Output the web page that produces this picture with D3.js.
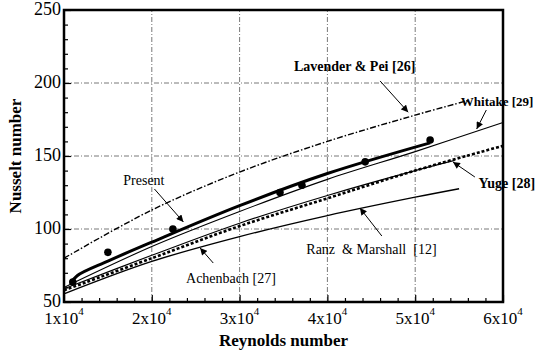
<!DOCTYPE html>
<html>
<head>
<meta charset="utf-8">
<script src="https://cdn.jsdelivr.net/npm/d3@7"></script>
<style>
  body { margin: 0; background: #fff; font-family: "Liberation Serif", "Times New Roman", serif; }
  svg { display: block; }
  svg text { font-family: "Liberation Serif", "Times New Roman", serif; }
</style>
</head>
<body>
<main></main>
<script>
// Reynolds number / Nusselt number curves
const lavenderRe = [10000, 20000, 30000, 40000, 50000, 56000];
const lavenderNu = [80, 113, 139, 160, 178, 188];

const whitakerRe = [10000, 20000, 30000, 40000, 50000, 60000];
const whitakerNu = [60, 88, 112, 134, 153, 173];

const presentRe = [10800, 11500, 15000, 20000, 30000, 40000, 51700];
const presentNu = [63, 68, 78, 91, 116, 138, 159];

const yugeRe = [10000, 20000, 30000, 40000, 50000, 60000];
const yugeNu = [58, 80, 102, 121, 140, 157];

const achenbachRe = [10000, 20000, 30000, 40000, 50000, 54500];
const achenbachNu = [59, 82, 104, 123, 140, 147];

const ranzRe = [10000, 20000, 30000, 40000, 50000, 55000];
const ranzNu = [55.6, 77.8, 94.8, 109.2, 121.8, 127.6];

// experimental points (Present)
const pointRe = [11000, 15000, 22400, 34600, 37100, 44300, 51700];
const pointNu = [63.7, 84, 100, 125, 130, 146, 161];

const xTicks = [10000, 20000, 30000, 40000, 50000, 60000];
const xTickLabels = ['1x10', '2x10', '3x10', '4x10', '5x10', '6x10'];
const yTicks = [50, 100, 150, 200, 250];

// annotation labels: text position and arrow (from -> tip), all in data units
const labels = [
  { text: 'Lavender & Pei [26]', re: 43100, nu: 211.7, anchor: 'middle', weight: 700, size: 14, from: [46000, 201.4], tip: [49200, 180] },
  { text: 'Whitake [29]', re: 55200, nu: 187.7, anchor: 'start', weight: 700, size: 13, from: [58100, 181.5], tip: [57000, 168.5] },
  { text: 'Yuge [28]', re: 57200, nu: 131.5, anchor: 'start', weight: 700, size: 14, from: [56800, 135.6], tip: [54300, 145.9] },
  { text: 'Ranz\u00a0 & Marshall\u00a0 [12]', re: 37600, nu: 86.3, anchor: 'start', weight: 400, size: 14, from: [46200, 95.2], tip: [43700, 114.4] },
  { text: 'Achenbach [27]', re: 23900, nu: 66.4, anchor: 'start', weight: 400, size: 14, from: [27000, 76.7], tip: [25500, 87] },
  { text: 'Present', re: 19100, nu: 133.6, anchor: 'middle', weight: 400, size: 14, from: [20300, 127.4], tip: [23600, 104.8] }
];

const width = 536;
const height = 351;
const margin = { top: 10, right: 33, bottom: 49, left: 64 };

const svg = d3.select('main')
  .append('svg')
  .attr('width', width)
  .attr('height', height)
  .attr('font-family', 'Liberation Serif, Times New Roman, serif');

const x = d3.scaleLinear()
  .domain([10000, 60000])
  .range([margin.left, width - margin.right]);

const y = d3.scaleLinear()
  .domain([50, 250])
  .range([height - margin.bottom, margin.top]);

// arrow head
svg.append('defs')
  .append('marker')
  .attr('id', 'head')
  .attr('viewBox', '0 0 10 10')
  .attr('refX', 10)
  .attr('refY', 5)
  .attr('markerWidth', 8)
  .attr('markerHeight', 7)
  .attr('markerUnits', 'userSpaceOnUse')
  .attr('orient', 'auto')
  .append('path')
  .attr('d', 'M0,0 L10,5 L0,10 z')
  .attr('fill', '#000');

// Grid
const grid = svg.append('g')
  .attr('stroke', '#555')
  .attr('stroke-width', 0.8)
  .attr('stroke-dasharray', '5,2,1,2');

grid.selectAll('line.gx')
  .data(xTicks.slice(1, -1))
  .enter()
  .append('line')
  .attr('x1', d => x(d))
  .attr('x2', d => x(d))
  .attr('y1', y(50))
  .attr('y2', y(250));

grid.selectAll('line.gy')
  .data(yTicks.slice(1, -1))
  .enter()
  .append('line')
  .attr('x1', x(10000))
  .attr('x2', x(60000))
  .attr('y1', d => y(d))
  .attr('y2', d => y(d));

// Axes with inward ticks
const xMinor = d3.range(10000, 60001, 2000).filter(d => d % 10000 !== 0);
const yMinor = d3.range(50, 251, 10).filter(d => d % 50 !== 0);

const tickAxis = (axis, t) => svg.append('g')
  .attr('transform', t)
  .call(axis.tickFormat(''))
  .call(g => g.select('.domain').remove())
  .call(g => g.selectAll('line').attr('stroke-width', 1.2));

tickAxis(d3.axisBottom(x).tickValues(xMinor).tickSize(-4), `translate(0, ${y(50)})`);
tickAxis(d3.axisBottom(x).tickValues(xTicks).tickSize(-7), `translate(0, ${y(50)})`);
tickAxis(d3.axisLeft(y).tickValues(yMinor).tickSize(-4), `translate(${x(10000)}, 0)`);
tickAxis(d3.axisLeft(y).tickValues(yTicks).tickSize(-7), `translate(${x(10000)}, 0)`);

// Frame
svg.append('rect')
  .attr('x', x(10000))
  .attr('y', y(250))
  .attr('width', x(60000) - x(10000))
  .attr('height', y(50) - y(250))
  .attr('fill', 'none')
  .attr('stroke', '#000')
  .attr('stroke-width', 2.5);

// Tick labels
const xLab = svg.append('g')
  .selectAll('text')
  .data(xTicks)
  .enter()
  .append('text')
  .attr('x', d => x(d))
  .attr('y', y(50) + 22)
  .attr('text-anchor', 'middle')
  .attr('font-size', 17);

xLab.append('tspan').text((d, i) => xTickLabels[i]);
xLab.append('tspan')
  .text('4')
  .attr('dy', -9)
  .attr('font-size', 11);

svg.append('g')
  .selectAll('text')
  .data(yTicks)
  .enter()
  .append('text')
  .text(d => d)
  .attr('x', x(10000) - 3)
  .attr('y', d => y(d) + 5)
  .attr('text-anchor', 'end')
  .attr('font-size', 18);

// Axis titles
svg.append('text')
  .text('Reynolds number')
  .attr('x', (x(10000) + x(60000)) / 2)
  .attr('y', 346)
  .attr('text-anchor', 'middle')
  .attr('font-size', 17)
  .attr('font-weight', 700);

svg.append('text')
  .text('Nusselt number')
  .attr('transform', `translate(21, ${(y(50) + y(250)) / 2}) rotate(-90)`)
  .attr('text-anchor', 'middle')
  .attr('font-size', 17)
  .attr('font-weight', 700);

// Curves
const line = d3.line()
  .x(d => x(d[0]))
  .y(d => y(d[1]))
  .curve(d3.curveCatmullRom);

const curves = [
  { re: lavenderRe, nu: lavenderNu, width: 1.4, dash: '6,2,1.5,2' },
  { re: ranzRe, nu: ranzNu, width: 1.4, dash: null },
  { re: achenbachRe, nu: achenbachNu, width: 1.1, dash: null },
  { re: yugeRe, nu: yugeNu, width: 2.6, dash: '3,2' },
  { re: whitakerRe, nu: whitakerNu, width: 1.1, dash: null },
  { re: presentRe, nu: presentNu, width: 3, dash: null }
];

svg.append('g')
  .selectAll('path')
  .data(curves)
  .enter()
  .append('path')
  .attr('d', c => line(c.re.map((r, i) => [r, c.nu[i]])))
  .attr('fill', 'none')
  .attr('stroke', '#000')
  .attr('stroke-width', c => c.width)
  .attr('stroke-dasharray', c => c.dash);

// Experimental points
svg.append('g')
  .selectAll('circle')
  .data(pointRe.map((r, i) => [r, pointNu[i]]))
  .enter()
  .append('circle')
  .attr('cx', d => x(d[0]))
  .attr('cy', d => y(d[1]))
  .attr('r', 3.8)
  .attr('fill', '#000');

// Annotations
const ann = svg.append('g')
  .selectAll('g')
  .data(labels)
  .enter()
  .append('g');

ann.append('line')
  .attr('x1', d => x(d.from[0]))
  .attr('y1', d => y(d.from[1]))
  .attr('x2', d => x(d.tip[0]))
  .attr('y2', d => y(d.tip[1]))
  .attr('stroke', '#000')
  .attr('stroke-width', 1)
  .attr('marker-end', 'url(#head)');

ann.append('text')
  .text(d => d.text)
  .attr('x', d => x(d.re))
  .attr('y', d => y(d.nu) + 5)
  .attr('text-anchor', d => d.anchor)
  .attr('font-size', d => d.size)
  .attr('font-weight', d => d.weight);
</script>
</body>
</html>
